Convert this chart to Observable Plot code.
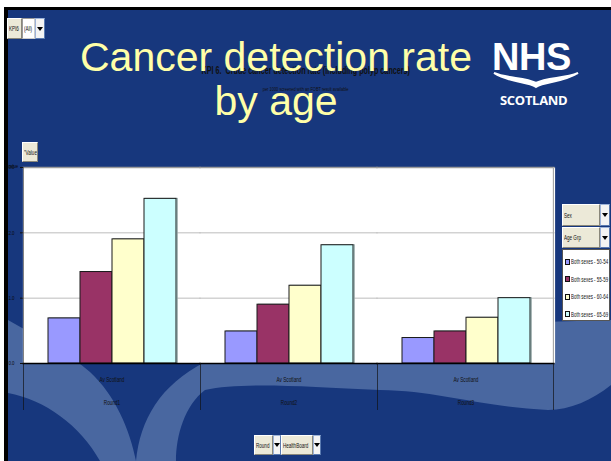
<!DOCTYPE html>
<html><head><meta charset="utf-8">
<script src="https://cdn.jsdelivr.net/npm/d3@7"></script>
<script src="https://cdn.jsdelivr.net/npm/@observablehq/plot@0.6"></script>
<style>
html,body{margin:0;padding:0;background:#fff;}
#page{position:relative;width:611px;height:461px;overflow:hidden;background:#fff;font-family:"Liberation Sans",Arial,sans-serif;}
#slide{position:absolute;left:8px;top:10px;right:0;bottom:0;background:#17377d;}
#bt{position:absolute;left:4px;top:7px;width:607px;height:3px;background:#000;}
#bl{position:absolute;left:4px;top:7px;width:4px;height:454px;background:#000;}
#deco{position:absolute;left:0;top:0;}
.btn{position:absolute;box-sizing:border-box;background:#ece9d8;border:1px solid;border-color:#fff #8a877a #8a877a #fff;font-family:"Liberation Sans",Arial,sans-serif;font-size:6.5px;color:#111;display:flex;align-items:center;padding-left:1px;white-space:nowrap;overflow:hidden;}
.btn span{display:inline-block;transform:scaleX(0.7);transform-origin:left center;}
.wbox{background:#fff;border-color:#999 #ccc #ccc #999;}
.arr{justify-content:center;padding-left:0;border-color:#9db3d9 #5a7ab0 #5a7ab0 #9db3d9;background:#f4f4f4;}
.arr::after{content:"";border-left:3px solid transparent;border-right:3px solid transparent;border-top:4px solid #000;}
.ctitle{position:absolute;left:0;width:611px;text-align:center;font-family:"Liberation Sans",Arial,sans-serif;color:#111;}
.ctitle span{display:inline-block;transform:scaleX(0.72);transform-origin:center;white-space:nowrap;}
.bigt{position:absolute;left:0;width:552px;text-align:center;color:#ffffa8;font-size:41px;font-family:"Liberation Sans",Arial,sans-serif;line-height:1;}
#chart{position:absolute;left:0;top:160px;}
#legend{position:absolute;left:562px;top:249px;width:48px;height:72px;box-sizing:border-box;background:#fff;border:1px solid #555;font-family:"Liberation Sans",Arial,sans-serif;font-size:6.5px;color:#111;padding-top:3px;overflow:hidden;}
#legend .it{display:flex;align-items:center;height:17.5px;padding-left:2px;white-space:nowrap;}
#legend .sw{width:3px;height:4px;border:1px solid #111;margin-right:1px;flex:none;}
#legend .tx{display:inline-block;transform:scaleX(0.68);transform-origin:left center;}
#nhs{position:absolute;left:492px;top:38px;color:#fff;}
</style>
</head><body>
<div id="page">
  <div id="slide"></div>
  <div id="bt"></div><div id="bl"></div>
  <svg id="deco" width="611" height="461">
    <g fill="#4967a0">
      <path d="M8,320 C40,338 70,355 90,372 C115,395 130,430 136,461 L100,461 C80,425 45,400 8,393 Z"/>
      <path d="M136,461 C140,420 160,385 205,362 C260,340 320,330 400,326 L611,320 L611,385 C592,400 570,410 548,410 C475,406 440,391 380,390 C300,386 240,382 205,390 C185,405 176,435 176,461 Z"/>
    </g>
  </svg>
  <div class="ctitle" style="top:65px;font-size:10px;font-weight:bold;"><span>KPI 6.&nbsp; Crude cancer detection rate (including polyp cancers)</span></div>
  <div class="ctitle" style="top:86px;font-size:5.5px;"><span>per 1000 screened with an FOBT result available</span></div>
  <div class="bigt" style="top:37px;">Cancer detection rate</div>
  <div class="bigt" style="top:81px;">by age</div>
  <div id="nhs">
    <div style="font-weight:bold;font-size:38px;letter-spacing:-0.5px;line-height:1;font-family:'Liberation Sans',Arial,sans-serif;">NHS</div>
    <svg width="90" height="18" style="position:absolute;left:0;top:33px;">
      <path d="M2,2 C18,12 35,10 44,16 C53,10 70,12 86,2 C72,8 55,6 44,12 C33,6 16,8 2,2 Z" fill="#fff" stroke="#fff" stroke-width="2"/>
    </svg>
    <div style="position:absolute;left:8px;top:53px;font-weight:bold;font-size:13px;letter-spacing:-0.3px;font-family:'Open Sans','Liberation Sans',sans-serif;">SCOTLAND</div>
  </div>
  <div class="btn" style="left:7px;top:18px;width:15px;height:21px;"><span>KPI6</span></div>
  <div class="btn wbox" style="left:22px;top:18px;width:13px;height:21px;"><span>(All)</span></div>
  <div class="btn arr" style="left:35px;top:18px;width:10px;height:21px;"></div>
  <div class="btn" style="left:22px;top:142px;width:16px;height:20px;"><span>"Value"</span></div>
  <div id="chart"></div>
  <div class="btn" style="left:562px;top:204px;width:38px;height:22px;"><span>Sex</span></div>
  <div class="btn arr" style="left:600px;top:204px;width:10px;height:22px;"></div>
  <div class="btn" style="left:562px;top:227px;width:38px;height:21px;"><span>Age Grp</span></div>
  <div class="btn arr" style="left:600px;top:227px;width:10px;height:21px;"></div>
  <div id="legend"></div>
  <div class="btn" style="left:254px;top:435px;width:19px;height:20px;"><span>Round</span></div>
  <div class="btn arr" style="left:273px;top:435px;width:8px;height:20px;"></div>
  <div class="btn" style="left:281px;top:435px;width:32px;height:20px;"><span>HealthBoard</span></div>
  <div class="btn arr" style="left:313px;top:435px;width:8px;height:20px;"></div>
</div>
<script>
const rounds = ["Round1", "Round2", "Round3"];
const regionLabel = "Av Scotland";
const ageGroups = ["50-54", "55-59", "60-64", "65-69"];
const sexLabel = "Both sexes";
const round1Values = [0.69, 1.40, 1.90, 2.52];
const round2Values = [0.49, 0.90, 1.19, 1.81];
const round3Values = [0.39, 0.49, 0.70, 1.00];
const ageColors = ["#9999ff", "#993366", "#ffffcc", "#ccffff"];
const yTicks = [0, 1, 2, 3];

const data = [round1Values, round2Values, round3Values].flatMap((vals, i) =>
  vals.map((v, j) => ({round: rounds[i], age: ageGroups[j], value: v})));

const W = 611, H = 260, ML = 22, MR = 57, MT = 7, MB = 57;
const facetW = (W - ML - MR) / rounds.length;
const font = "'Liberation Sans',Arial,sans-serif";
const belowAxis = 47;

const chart = Plot.plot({
  width: W, height: H,
  marginLeft: ML, marginRight: MR, marginTop: MT, marginBottom: MB,
  style: {background: "transparent", overflow: "visible"},
  fx: {domain: rounds, padding: 0, axis: null},
  x: {domain: ageGroups, paddingInner: 0, paddingOuter: 0.76, axis: null},
  y: {domain: [0, 3], axis: null},
  color: {domain: ageGroups, range: ageColors},
  marks: [
    Plot.frame({fill: "white", stroke: null, insetLeft: -0.6, insetRight: -0.6}),
    Plot.gridY([1, 2], {stroke: "#bdbdbd", strokeOpacity: 1, strokeWidth: 1, insetLeft: -0.6, insetRight: -0.6}),
    Plot.ruleY([3], {stroke: "#9a9a9a", strokeWidth: 1.5, insetLeft: -0.6, insetRight: -0.6}),
    Plot.rect([rounds[rounds.length - 1]], {fx: d => d, y1: 0, y2: 3, insetLeft: facetW - 1.5, fill: "#a8a8a8"}),
    Plot.rect([rounds[0]], {fx: d => d, y1: 0, y2: 3, insetRight: facetW - 1, fill: "#444"}),
    Plot.barY(data, {fx: "round", x: "age", y: "value", fill: "age", dx: 1.2, stroke: "#8a9a9a", strokeWidth: 1}),
    Plot.barY(data, {fx: "round", x: "age", y: "value", fill: "age", stroke: "#1a1a1a", strokeWidth: 1}),
    Plot.ruleY([0], {stroke: "#000", strokeWidth: 1.5, insetLeft: -0.6, insetRight: -0.6}),
    Plot.rect(rounds, {fx: d => d, y1: 0, y2: 0, insetBottom: -belowAxis, insetRight: facetW - 1, fill: "#111"}),
    Plot.rect([rounds[rounds.length - 1]], {fx: d => d, y1: 0, y2: 0, insetBottom: -belowAxis, insetLeft: facetW - 1, fill: "#111"}),
    Plot.text(rounds, {fx: d => d, text: () => regionLabel, frameAnchor: "bottom", dy: 16, lineAnchor: "middle", fontSize: 6.5, fontFamily: font, fill: "#111"}),
    Plot.text(rounds, {fx: d => d, text: d => d, frameAnchor: "bottom", dy: 39, lineAnchor: "middle", fontSize: 6.5, fontFamily: font, fill: "#111"}),
    Plot.axisY(yTicks, {facetAnchor: "left", tickSize: 3, tickPadding: 6, fontSize: 6, fontFamily: font, color: "#0a0a0a", stroke: "#111"})
  ]
});
document.getElementById("chart").appendChild(chart);
// condense the small chart texts (narrow face as in the original)
d3.select(chart).selectAll("text").each(function () {
  const len = this.getComputedTextLength();
  if (len > 0) {
    this.setAttribute("textLength", (len * 0.72).toFixed(2));
    this.setAttribute("lengthAdjust", "spacingAndGlyphs");
  }
});

const leg = document.getElementById("legend");
ageGroups.forEach((a, i) => {
  const it = document.createElement("div");
  it.className = "it";
  it.innerHTML = `<span class="sw" style="background:${ageColors[i]}"></span><span class="tx">${sexLabel} - ${a}</span>`;
  leg.appendChild(it);
});
</script>
</body></html>
